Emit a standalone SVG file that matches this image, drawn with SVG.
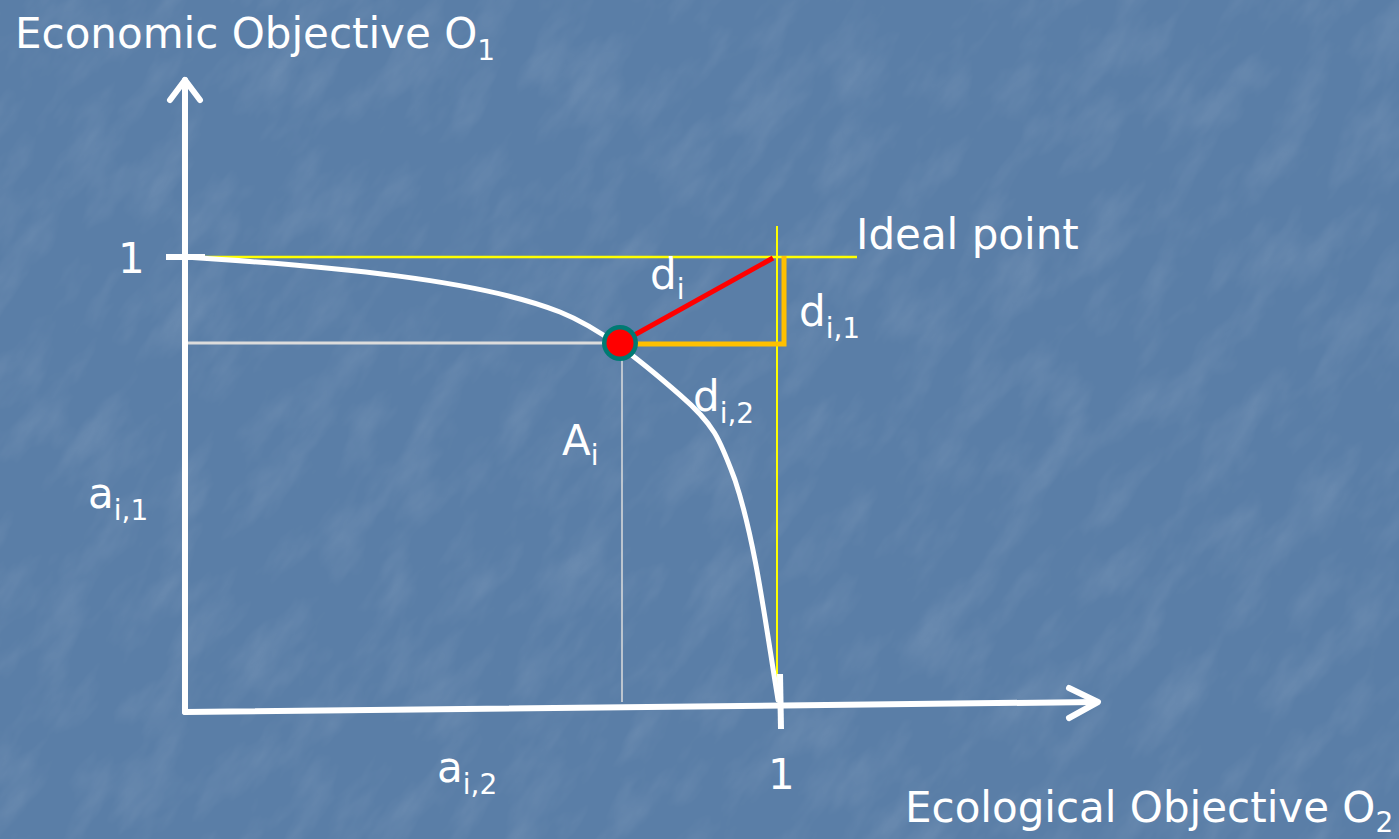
<svg xmlns="http://www.w3.org/2000/svg" width="1399" height="839" viewBox="0 0 1399 839">
<defs>
<style>
.t{font-family:"DejaVu Sans",Verdana,sans-serif;fill:#ffffff;font-size:42px}
.s{font-size:28px}
.ax{stroke:#ffffff;stroke-width:6;fill:none;stroke-linecap:round;stroke-linejoin:round}
</style>
<filter id="tex" x="0" y="0" width="100%" height="100%">
<feTurbulence type="fractalNoise" baseFrequency="0.03 0.012" numOctaves="4" seed="7"/>
<feColorMatrix type="matrix" values="0 0 0 0 1  0 0 0 0 1  0 0 0 0 1  0 0 0 0.5 -0.22"/>
</filter>
</defs>
<rect width="1399" height="839" fill="#5a7ea7"/>
<g transform="rotate(35 700 420)" opacity="0.4">
<rect x="-400" y="-500" width="2200" height="1840" filter="url(#tex)"/>
</g>

<g id="guides">
<line x1="185" y1="343" x2="620" y2="343" stroke="#dcdcdc" stroke-width="3"/>
<line x1="622" y1="343" x2="622" y2="702" stroke="#dcdcdc" stroke-width="1.5"/>
<line x1="185" y1="257" x2="857" y2="257" stroke="#ffff00" stroke-width="2.5"/>
<line x1="777" y1="226" x2="777" y2="702" stroke="#ffff00" stroke-width="2"/>
</g>

<g id="axes">
<line class="ax" x1="185" y1="712" x2="185" y2="80"/>
<polyline class="ax" points="170,100 185,80 200,100"/>
<line class="ax" x1="185" y1="712" x2="1096" y2="702"/>
<polyline class="ax" points="1069,688 1098,702 1069,718"/>
<line x1="166" y1="257" x2="205" y2="257" stroke="#ffffff" stroke-width="6"/>
<line x1="780" y1="674" x2="781" y2="729" stroke="#ffffff" stroke-width="6"/>
</g>

<g id="curve">
<path d="M185,257 C330,266 480,280 560,312 C600,328 640,360 680,395 C715,425 720,440 735,480 C755,540 765,620 778,700" fill="none" stroke="#ffffff" stroke-width="5" stroke-linecap="round"/>
</g>

<g id="connectors">
<line x1="620" y1="343" x2="773" y2="258" stroke="#ff0000" stroke-width="5"/>
<polyline points="632,344 784,344 784,256" fill="none" stroke="#ffc000" stroke-width="5"/>
</g>

<g id="point-Ai">
<circle cx="620" cy="343" r="18" fill="#007a73"/>
<circle cx="620" cy="343" r="13.5" fill="#ff0000"/>
</g>

<g id="labels">
<text class="t" x="15" y="48">Economic Objective O<tspan class="s" dy="12">1</tspan></text>
<text class="t" x="856" y="249">Ideal point</text>
<text class="t" x="118" y="273">1</text>
<text class="t" x="650" y="289">d<tspan class="s" dy="10">i</tspan></text>
<text class="t" x="799" y="326">d<tspan class="s" dy="12">i,1</tspan></text>
<text class="t" x="693" y="411">d<tspan class="s" dy="12">i,2</tspan></text>
<text class="t" x="562" y="455">A<tspan class="s" dy="10">i</tspan></text>
<text class="t" x="88" y="508">a<tspan class="s" dy="12">i,1</tspan></text>
<text class="t" x="437" y="782">a<tspan class="s" dy="12">i,2</tspan></text>
<text class="t" x="768" y="789">1</text>
<text class="t" x="905" y="822">Ecological Objective O<tspan class="s" dy="10">2</tspan></text>
</g>
</svg>
